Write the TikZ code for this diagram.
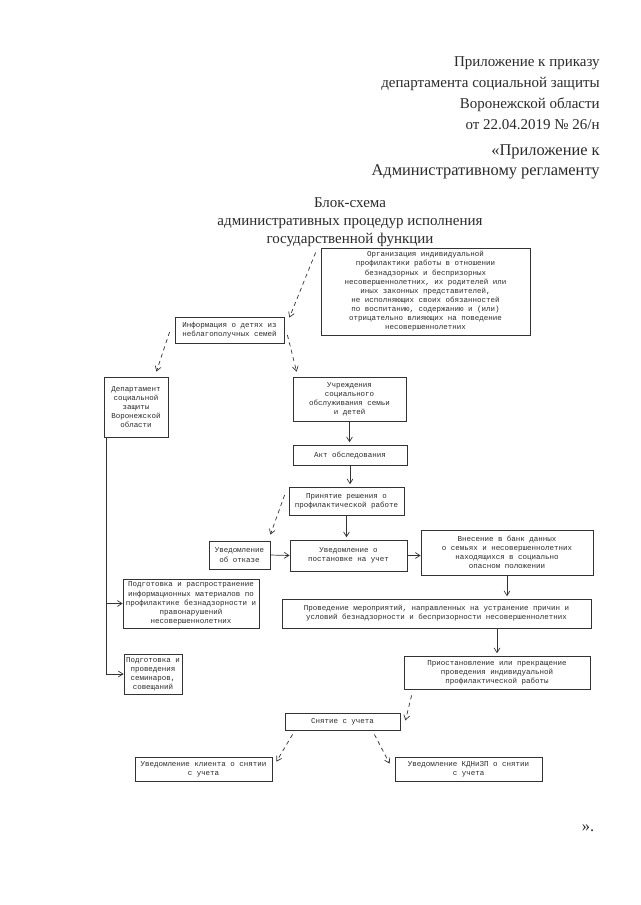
\documentclass[tikz,border=0pt]{standalone}
\usepackage{fontspec}
\setmainfont{Liberation Serif}
\newfontfamily\boxfont{Liberation Mono}
\usepackage{tikz}
\usetikzlibrary{positioning, calc, arrows.meta}
\definecolor{ink}{HTML}{2B2B2B}
\definecolor{frame}{HTML}{333333}

\begin{document}
\begin{tikzpicture}[x=0.03cm, y=-0.03cm, >={Straight Barb[length=4pt, width=5pt]}, line width=0.6pt,
  box/.style={draw=frame, line width=0.7pt, rectangle, inner sep=1pt, align=center, text=ink, font=\boxfont\fontsize{6.4}{7.8}\selectfont},
  link/.style={->, frame},
  dlink/.style={->, frame, dash pattern=on 3.5pt off 3pt}]
\fill[white] (0,0) rectangle (640,905);
\useasboundingbox (0,0) rectangle (640,905);

% Header
\node[anchor=north east, inner sep=0, align=right, text=ink, font=\fontsize{12.8}{17.9}\selectfont] (head) at (600,56) {Приложение к приказу\\департамента социальной защиты\\Воронежской области\\от 22.04.2019 № 26/н};
\node[anchor=north east, inner sep=0, align=right, text=ink, font=\fontsize{14}{17}\selectfont] (head2) at (600,144) {«Приложение к\\Административному регламенту};
\node[anchor=north, inner sep=0, align=center, text=ink, font=\fontsize{12.8}{15.3}\selectfont] (title) at (350,197) {Блок-схема\\административных процедур исполнения\\государственной функции};

% Upper part
\node[box, minimum width=6.27cm, minimum height=2.61cm] (org) at (425.5,291.5) {Организация индивидуальной\\профилактики работы в отношении\\безнадзорных и беспризорных\\несовершеннолетних, их родителей или\\иных законных представителей,\\не исполняющих своих обязанностей\\по воспитанию, содержанию и (или)\\отрицательно влияющих на поведение\\несовершеннолетних};
\node[box, minimum width=3.27cm, minimum height=0.78cm] (info) at (229.5,330) {Информация о детях из\\неблагополучных семей};
\node[box, minimum width=1.92cm, minimum height=1.8cm] (dept) at (136,407) {Департамент\\социальной\\защиты\\Воронежской\\области};
\node[box, minimum width=3.39cm, minimum height=1.32cm] (uchr) at (349.5,399) {Учреждения\\социального\\обслуживания семьи\\и детей};

% Middle part
\node[box, minimum width=3.42cm, minimum height=0.6cm] (akt) at (350,455) {Акт обследования};
\node[box, minimum width=3.45cm, minimum height=0.84cm] (decision) at (346.5,501) {Принятие решения о\\профилактической работе};
\node[box, minimum width=1.83cm, minimum height=0.84cm] (refusal) at (239.5,555) {Уведомление\\об отказе};
\node[box, minimum width=3.51cm, minimum height=0.93cm] (register) at (348.5,555.5) {Уведомление о\\постановке на учет};
\node[box, minimum width=5.16cm, minimum height=1.35cm] (databank) at (507,552.5) {Внесение в банк данных\\о семьях и несовершеннолетних\\находящихся в социально\\опасном положении};
\node[box, minimum width=4.08cm, minimum height=1.47cm] (leaflets) at (191,603.5) {Подготовка и распространение\\информационных материалов по\\профилактике безнадзорности и\\правонарушений\\несовершеннолетних};
\node[box, minimum width=9.27cm, minimum height=0.87cm] (measures) at (436.5,613.5) {Проведение мероприятий, направленных на устранение причин и\\условий безнадзорности и беспризорности несовершеннолетних};

% Lower part
\node[box, minimum width=5.58cm, minimum height=0.99cm] (stop) at (497,672.5) {Приостановление или прекращение\\проведения индивидуальной\\профилактической работы};
\node[box, minimum width=1.74cm, minimum height=1.2cm] (seminars) at (153,674) {Подготовка и\\проведения\\семинаров,\\совещаний};
\node[box, minimum width=3.45cm, minimum height=0.51cm] (removal) at (342.5,721.5) {Снятие с учета};
\node[box, minimum width=4.11cm, minimum height=0.72cm] (client) at (203.5,769) {Уведомление клиента о снятии\\с учета};
\node[box, minimum width=4.41cm, minimum height=0.72cm] (kdn) at (468.5,769) {Уведомление КДНиЗП о снятии\\с учета};
\node[inner sep=0, text=ink, font=\fontsize{14}{16}\selectfont] (close) at (588,828) {».};

% Connections
\draw[dlink] ($(org.north west)+(-5,5)$) -- ($(info.north east)+(5,1)$);
\draw[dlink] ($(info.west)+(-5,2)$) -- ($(dept.north east)+(-12,-5)$);
\draw[dlink] ($(info.east)+(3,5)$) -- ($(uchr.north west)+(4,-5)$);
\draw[link, shorten >=2pt] (uchr.south) -- (uchr.south |- akt.north);
\draw[link, shorten >=2pt] (akt.south) -- (akt.south |- decision.north);
\draw[dlink] ($(decision.west)+(-4,-6)$) -- ($(refusal.north east)+(0,-6)$);
\draw[link, shorten >=2pt] (decision.south) -- (decision.south |- register.north);
\draw[link] (refusal.east) -- (register.west);
\draw[link] (register.east) -- (register.east -| databank.west);
\draw[link, shorten >=2pt] (databank.south) -- (databank.south |- measures.north);
\draw[link, shorten >=2pt] (stop.north |- measures.south) -- (stop.north);
\draw[dlink] ($(stop.south west)+(8,6)$) -- ($(removal.east)+(5,-1)$);
\draw[dlink] ($(removal.south west)+(8,4)$) -- ($(client.north east)+(4,5)$);
\draw[dlink] ($(removal.south east)+(-26,4)$) -- ($(kdn.north west)+(-5,7)$);
\coordinate (trunk) at ($(dept.south west)+(3,0)$);
\draw[link] (trunk) |- (seminars.west);
\draw[link] (trunk |- leaflets.west) -- (leaflets.west);
\end{tikzpicture}
\end{document}
